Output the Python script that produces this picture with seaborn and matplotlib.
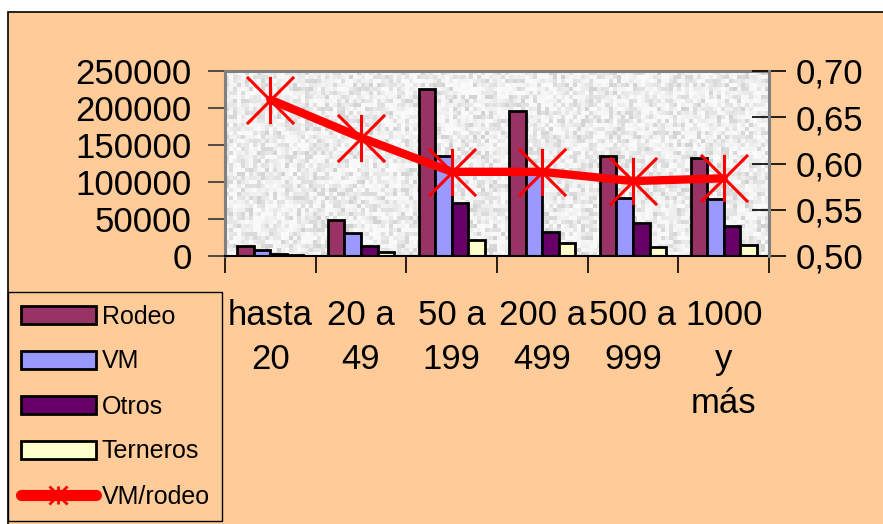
import numpy as np
import pandas as pd
import matplotlib
matplotlib.use("Agg")
import matplotlib.pyplot as plt
from matplotlib.patches import Rectangle, Patch
from matplotlib.lines import Line2D
from matplotlib.path import Path
from matplotlib.ticker import FixedLocator, FixedFormatter
import seaborn as sns

# ---- data -------------------------------------------------------------
categories = ["hasta\n20", "20 a\n49", "50 a\n199", "200 a\n499", "500 a\n999", "1000\ny\nmás"]
rodeo = [13500, 48500, 226000, 196000, 135500, 133000]
vm = [8500, 30500, 134500, 116000, 79000, 77000]
otros = [3000, 13500, 71500, 33000, 45000, 40500]
terneros = [1500, 5000, 21500, 18000, 12500, 15000]
vm_rodeo = [0.669, 0.628, 0.591, 0.591, 0.581, 0.584]

series_names = ["Rodeo", "VM", "Otros", "Terneros"]
line_name = "VM/rodeo"
left_ticks = [0, 50000, 100000, 150000, 200000, 250000]
right_ticks = [0.50, 0.55, 0.60, 0.65, 0.70]
right_tick_labels = ["0,50", "0,55", "0,60", "0,65", "0,70"]

# ---- style ------------------------------------------------------------
sns.set_theme(style="white")
plt.rcParams["font.family"] = ["Liberation Sans", "DejaVu Sans"]

PEACH = "#FFCC99"
bar_colors = ["#993366", "#9999FF", "#660066", "#FFFFCC"]
LINE_RED = "#FF0000"
FRAME_GRAY = "#808080"

df = pd.DataFrame({
    "categoria": np.repeat(categories, 4),
    "serie": series_names * len(categories),
    "valor": np.array([rodeo, vm, otros, terneros]).T.ravel(),
})

fig = plt.figure(figsize=(8.83, 5.24), dpi=100, facecolor="white")

# outer chart frame
fig.patches.append(Rectangle((8 / 883, -0.05), 1.2, (524 - 12) / 524 + 0.05,
                             transform=fig.transFigure, facecolor=PEACH,
                             edgecolor="black", linewidth=1.2, zorder=-10))

pos = [225 / 883, 1 - 256 / 524, (769 - 225) / 883, (256 - 71) / 524]

# speckled grey plot-area fill
bg = fig.add_axes(pos, zorder=-1)
rng = np.random.default_rng(11)
tex = 0.98 - 0.16 * rng.random((46, 136)) ** 1.8
bg.imshow(tex, cmap="gray", vmin=0, vmax=1, aspect="auto", interpolation="nearest")
bg.set_axis_off()

ax = fig.add_axes(pos)
ax.patch.set_visible(False)

sns.barplot(data=df, x="categoria", y="valor", hue="serie", order=categories,
            hue_order=series_names, palette=bar_colors, width=0.73, gap=0,
            edgecolor="black", linewidth=2, saturation=1, ax=ax, legend=False)

ax.set_ylim(0, 250000)
ax.set_xlim(-0.5, len(categories) - 0.5)
ax.yaxis.set_major_locator(FixedLocator(left_ticks))
ax.yaxis.set_major_formatter(FixedFormatter([str(t) for t in left_ticks]))
ax.set_xlabel("")
ax.set_ylabel("")
ax.set_xticks(range(len(categories)))
ax.set_xticklabels(categories, linespacing=1.43)
ax.set_xticks(np.arange(-0.5, len(categories)), minor=True)
ax.tick_params(axis="x", which="major", length=0, pad=31, labelsize=25, colors="black")
ax.tick_params(axis="x", which="minor", bottom=True, length=12, width=1.2, color="black", direction="out")
ax.tick_params(axis="y", which="major", left=True, length=12, width=1.2, color="#333333",
               direction="out", pad=12, labelsize=25, labelcolor="black")

for side in ["left", "top"]:
    ax.spines[side].set_color(FRAME_GRAY)
    ax.spines[side].set_linewidth(2.2)
ax.spines["right"].set_visible(False)
ax.spines["bottom"].set_color("black")
ax.spines["bottom"].set_linewidth(1.5)

# ratio line on the secondary axis
ax2 = ax.twinx()
star = Path([(0, -1), (0, 1), (-1, -1), (1, 1), (-1, 1), (1, -1)],
            [Path.MOVETO, Path.LINETO] * 3)
sns.pointplot(x=categories, y=vm_rodeo, order=categories, ax=ax2, color=LINE_RED,
              errorbar=None, linewidth=6, marker=star, markersize=34,
              markeredgewidth=2.2, markeredgecolor=LINE_RED)
ax2.set_ylim(0.50, 0.70)
ax2.set_xlim(-0.5, len(categories) - 0.5)
ax2.yaxis.set_major_locator(FixedLocator(right_ticks))
ax2.yaxis.set_major_formatter(FixedFormatter(right_tick_labels))
ax2.set_ylabel("")
ax2.tick_params(axis="y", which="major", right=True, length=24, width=1.2, color="black",
                direction="inout", pad=7, labelsize=25, labelcolor="black")
for side in ["left", "top", "bottom"]:
    ax2.spines[side].set_visible(False)
ax2.spines["right"].set_color(FRAME_GRAY)
ax2.spines["right"].set_linewidth(2.2)

# legend
handles = [Patch(facecolor=c, edgecolor="black", linewidth=2) for c in bar_colors]
handles.append(Line2D([], [], color=LINE_RED, linewidth=8, marker=star, markersize=13,
                      markeredgewidth=2, markeredgecolor=LINE_RED, solid_capstyle="round"))
leg = fig.legend(handles, series_names + [line_name], loc="upper left",
                 bbox_to_anchor=(8 / 883, 1 - 292 / 524), bbox_transform=fig.transFigure,
                 fontsize=18, frameon=True, fancybox=False, shadow=False,
                 facecolor=PEACH, edgecolor="black", framealpha=1,
                 handlelength=3.0, handleheight=0.7, handletextpad=0.25,
                 labelspacing=0.84, borderpad=0.5, borderaxespad=0)
leg.get_frame().set_linewidth(1.0)
for t in leg.get_texts():
    t.set_color("black")

fig.savefig("out.png", dpi=100, facecolor=fig.get_facecolor())
